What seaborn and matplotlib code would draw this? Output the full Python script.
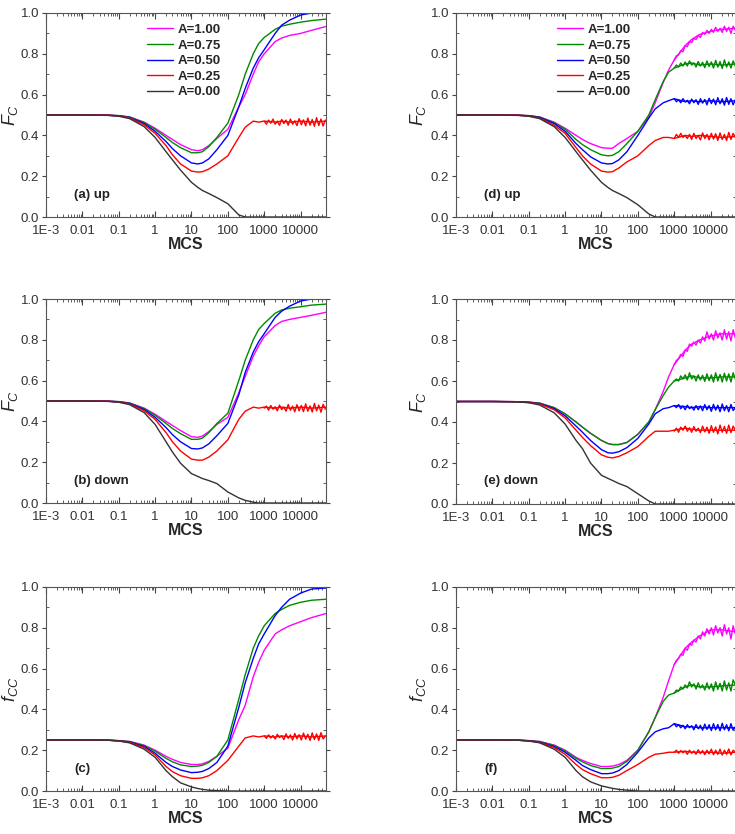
import numpy as np
import pandas as pd
import matplotlib
matplotlib.use("Agg")
import matplotlib.pyplot as plt
from matplotlib.ticker import FixedLocator, LogLocator, MultipleLocator, NullFormatter, FormatStrFormatter
import seaborn as sns

# time axis (MCS), shared by all panels
MCS = [0.001, 0.01, 0.05, 0.1, 0.2, 0.5, 1, 2, 3, 5, 10, 15, 20, 30, 50,
       100, 200, 300, 500, 700, 1000, 2000, 3000, 5000, 10000, 20000, 50000]
# denser time points for the noisy plateaus
MCS_tail = [1000, 1150, 1320, 1510, 1740, 2000, 2290, 2630, 3020, 3470, 3980, 4570, 5250, 6030, 6920,
            7940, 9120, 10500, 12000, 13800, 15800, 18200, 20900, 24000, 27500, 31600, 36300, 41700, 47900]

# (a) up, F_C
a_100 = [0.5, 0.5, 0.499, 0.497, 0.49, 0.465, 0.435, 0.4, 0.38, 0.355, 0.33, 0.325, 0.33, 0.35, 0.385,
         0.43, 0.54, 0.6, 0.7, 0.76, 0.8, 0.86, 0.877, 0.89, 0.9, 0.915, 0.934]
a_075 = [0.5, 0.5, 0.499, 0.497, 0.49, 0.463, 0.43, 0.39, 0.365, 0.34, 0.315, 0.315, 0.32, 0.345, 0.39,
         0.46, 0.6, 0.7, 0.8, 0.85, 0.88, 0.92, 0.935, 0.945, 0.955, 0.963, 0.97]
a_050 = [0.5, 0.5, 0.499, 0.496, 0.488, 0.458, 0.42, 0.37, 0.335, 0.3, 0.265, 0.26, 0.265, 0.285, 0.33,
         0.4, 0.54, 0.63, 0.73, 0.78, 0.82, 0.9, 0.94, 0.965, 0.99, 1.0, 1.0]
a_025 = [0.5, 0.5, 0.499, 0.495, 0.486, 0.452, 0.41, 0.35, 0.305, 0.26, 0.225, 0.22, 0.222, 0.235, 0.26,
         0.3, 0.39, 0.44, 0.47, 0.465, 0.47, 0.465, 0.47, 0.465, 0.47, 0.465, 0.47]
a_000 = [0.5, 0.5, 0.498, 0.494, 0.482, 0.443, 0.39, 0.32, 0.28, 0.23, 0.17, 0.145, 0.13, 0.115, 0.095,
         0.065, 0.01, 0.0, 0, 0, 0, 0, 0, 0, 0, 0, 0]
a_025_tail = [0.47, 0.455, 0.475, 0.46, 0.48, 0.455, 0.47, 0.45, 0.478, 0.458, 0.475, 0.45, 0.48, 0.455, 0.472,
              0.448, 0.482, 0.452, 0.476, 0.447, 0.485, 0.45, 0.478, 0.445, 0.487, 0.448, 0.48, 0.446, 0.475]

# (b) down, F_C
b_100 = [0.5, 0.5, 0.499, 0.497, 0.49, 0.465, 0.435, 0.4, 0.38, 0.355, 0.325, 0.322, 0.328, 0.35, 0.385,
         0.42, 0.54, 0.62, 0.72, 0.77, 0.815, 0.87, 0.89, 0.9, 0.91, 0.92, 0.935]
b_075 = [0.5, 0.5, 0.499, 0.497, 0.49, 0.463, 0.43, 0.39, 0.365, 0.34, 0.312, 0.312, 0.318, 0.345, 0.39,
         0.44, 0.6, 0.7, 0.8, 0.85, 0.88, 0.93, 0.946, 0.955, 0.962, 0.97, 0.975]
b_050 = [0.5, 0.5, 0.499, 0.496, 0.488, 0.458, 0.42, 0.37, 0.335, 0.3, 0.267, 0.265, 0.27, 0.29, 0.33,
         0.39, 0.53, 0.64, 0.74, 0.79, 0.83, 0.91, 0.94, 0.965, 0.99, 1.0, 1.0]
b_025 = [0.5, 0.5, 0.499, 0.495, 0.486, 0.452, 0.41, 0.345, 0.3, 0.255, 0.215, 0.21, 0.21, 0.225, 0.255,
         0.31, 0.41, 0.45, 0.47, 0.465, 0.47, 0.465, 0.47, 0.465, 0.47, 0.465, 0.47]
b_000 = [0.5, 0.5, 0.498, 0.494, 0.482, 0.443, 0.385, 0.3, 0.25, 0.195, 0.144, 0.13, 0.12, 0.11, 0.095,
         0.054, 0.025, 0.013, 0.004, 0.0, 0, 0, 0, 0, 0, 0, 0]
b_025_tail = [0.465, 0.475, 0.455, 0.478, 0.46, 0.472, 0.452, 0.48, 0.458, 0.47, 0.45, 0.483, 0.455, 0.475, 0.447,
              0.482, 0.452, 0.478, 0.448, 0.486, 0.45, 0.476, 0.446, 0.488, 0.452, 0.48, 0.445, 0.484, 0.46]

# (c) f_CC
c_100 = [0.25, 0.25, 0.249, 0.247, 0.243, 0.225, 0.2, 0.17, 0.155, 0.14, 0.13, 0.13, 0.133, 0.145, 0.17,
         0.21, 0.35, 0.42, 0.56, 0.63, 0.69, 0.77, 0.79, 0.81, 0.83, 0.85, 0.87]
c_075 = [0.25, 0.25, 0.249, 0.247, 0.242, 0.222, 0.195, 0.16, 0.143, 0.128, 0.12, 0.122, 0.126, 0.14, 0.17,
         0.25, 0.45, 0.57, 0.7, 0.76, 0.81, 0.87, 0.89, 0.91, 0.925, 0.935, 0.94]
c_050 = [0.25, 0.25, 0.249, 0.246, 0.24, 0.218, 0.185, 0.14, 0.12, 0.103, 0.09, 0.092, 0.096, 0.11, 0.14,
         0.22, 0.41, 0.53, 0.65, 0.72, 0.77, 0.86, 0.9, 0.94, 0.97, 0.99, 0.995]
c_025 = [0.25, 0.25, 0.249, 0.246, 0.238, 0.213, 0.177, 0.12, 0.095, 0.075, 0.062, 0.062, 0.065, 0.075, 0.1,
         0.15, 0.22, 0.26, 0.27, 0.265, 0.27, 0.265, 0.27, 0.265, 0.27, 0.265, 0.27]
c_000 = [0.25, 0.25, 0.249, 0.245, 0.236, 0.205, 0.165, 0.1, 0.07, 0.04, 0.02, 0.012, 0.008, 0.004, 0.002,
         0.0, 0, 0, 0, 0, 0, 0, 0, 0, 0, 0, 0]
c_025_tail = [0.27, 0.258, 0.275, 0.26, 0.272, 0.255, 0.278, 0.262, 0.27, 0.252, 0.28, 0.258, 0.275, 0.25, 0.282,
              0.256, 0.276, 0.25, 0.284, 0.254, 0.278, 0.248, 0.285, 0.252, 0.28, 0.248, 0.286, 0.255, 0.27]

# (d) up, F_C
d_100 = [0.5, 0.5, 0.499, 0.497, 0.49, 0.465, 0.435, 0.4, 0.38, 0.36, 0.34, 0.337, 0.337, 0.36, 0.385,
         0.42, 0.49, 0.56, 0.66, 0.72, 0.77, 0.84, 0.87, 0.895, 0.91, 0.92, 0.925]
d_075 = [0.5, 0.5, 0.499, 0.497, 0.49, 0.462, 0.43, 0.38, 0.355, 0.33, 0.305, 0.3, 0.302, 0.32, 0.36,
         0.42, 0.5, 0.575, 0.665, 0.71, 0.73, 0.75, 0.755, 0.745, 0.75, 0.745, 0.75]
d_050 = [0.5, 0.5, 0.499, 0.496, 0.488, 0.458, 0.42, 0.36, 0.33, 0.295, 0.265, 0.26, 0.262, 0.28, 0.32,
         0.4, 0.485, 0.53, 0.56, 0.57, 0.58, 0.565, 0.57, 0.565, 0.57, 0.565, 0.57]
d_025 = [0.5, 0.5, 0.499, 0.495, 0.485, 0.45, 0.41, 0.34, 0.3, 0.26, 0.225, 0.22, 0.222, 0.24, 0.27,
         0.3, 0.35, 0.375, 0.39, 0.39, 0.385, 0.4, 0.395, 0.4, 0.395, 0.39, 0.395]
d_000 = [0.5, 0.5, 0.498, 0.494, 0.482, 0.443, 0.39, 0.32, 0.28, 0.23, 0.17, 0.145, 0.13, 0.115, 0.095,
         0.06, 0.015, 0.0, 0, 0, 0, 0, 0, 0, 0, 0, 0]
d_100_tail = [0.77, 0.79, 0.795, 0.815, 0.81, 0.84, 0.835, 0.86, 0.855, 0.875, 0.87, 0.89, 0.88, 0.905, 0.895,
              0.915, 0.9, 0.92, 0.905, 0.93, 0.91, 0.925, 0.905, 0.935, 0.91, 0.93, 0.9, 0.935, 0.915]
d_075_tail = [0.73, 0.745, 0.735, 0.755, 0.74, 0.76, 0.74, 0.765, 0.745, 0.755, 0.735, 0.762, 0.74, 0.758, 0.732,
              0.765, 0.738, 0.76, 0.73, 0.768, 0.735, 0.762, 0.728, 0.77, 0.735, 0.76, 0.73, 0.765, 0.74]
d_050_tail = [0.58, 0.565, 0.575, 0.56, 0.58, 0.565, 0.572, 0.555, 0.578, 0.56, 0.575, 0.552, 0.58, 0.558, 0.576,
              0.55, 0.582, 0.556, 0.578, 0.55, 0.585, 0.555, 0.58, 0.548, 0.586, 0.552, 0.58, 0.55, 0.575]
d_025_tail = [0.385, 0.405, 0.39, 0.41, 0.39, 0.4, 0.385, 0.405, 0.38, 0.41, 0.385, 0.4, 0.378, 0.412, 0.385,
              0.405, 0.378, 0.41, 0.382, 0.408, 0.375, 0.412, 0.38, 0.405, 0.375, 0.415, 0.38, 0.41, 0.39]

# (e) down, F_C
e_100 = [0.5, 0.5, 0.499, 0.497, 0.492, 0.47, 0.44, 0.4, 0.375, 0.345, 0.31, 0.295, 0.29, 0.29, 0.3,
         0.34, 0.4, 0.46, 0.55, 0.62, 0.68, 0.75, 0.78, 0.8, 0.82, 0.83, 0.83]
e_075 = [0.5, 0.5, 0.499, 0.497, 0.492, 0.47, 0.44, 0.4, 0.375, 0.345, 0.31, 0.295, 0.29, 0.29, 0.3,
         0.34, 0.4, 0.46, 0.53, 0.57, 0.6, 0.615, 0.625, 0.615, 0.615, 0.62, 0.62]
e_050 = [0.5, 0.5, 0.499, 0.496, 0.49, 0.465, 0.43, 0.38, 0.35, 0.31, 0.265, 0.25, 0.248, 0.255, 0.275,
         0.32, 0.39, 0.44, 0.465, 0.47, 0.48, 0.475, 0.47, 0.475, 0.47, 0.47, 0.47]
e_025 = [0.5, 0.5, 0.499, 0.495, 0.488, 0.46, 0.42, 0.36, 0.325, 0.285, 0.24, 0.228, 0.225, 0.232, 0.25,
         0.28, 0.33, 0.355, 0.355, 0.355, 0.36, 0.37, 0.365, 0.36, 0.36, 0.36, 0.36]
e_000 = [0.5, 0.5, 0.498, 0.494, 0.483, 0.445, 0.39, 0.31, 0.27, 0.2, 0.14, 0.125, 0.115, 0.1, 0.085,
         0.05, 0.015, 0.0, 0, 0, 0, 0, 0, 0, 0, 0, 0]
e_100_tail = [0.68, 0.7, 0.71, 0.73, 0.72, 0.75, 0.745, 0.78, 0.77, 0.79, 0.775, 0.8, 0.785, 0.815, 0.795,
              0.84, 0.805, 0.83, 0.8, 0.845, 0.81, 0.835, 0.8, 0.85, 0.805, 0.84, 0.795, 0.85, 0.81]
e_075_tail = [0.6, 0.61, 0.6, 0.625, 0.61, 0.63, 0.605, 0.64, 0.61, 0.625, 0.6, 0.63, 0.605, 0.628, 0.598,
              0.635, 0.602, 0.63, 0.595, 0.64, 0.6, 0.632, 0.595, 0.638, 0.6, 0.635, 0.595, 0.64, 0.61]
e_050_tail = [0.48, 0.47, 0.485, 0.465, 0.478, 0.46, 0.482, 0.465, 0.475, 0.458, 0.48, 0.46, 0.478, 0.455, 0.485,
              0.46, 0.48, 0.452, 0.486, 0.458, 0.482, 0.45, 0.488, 0.455, 0.48, 0.45, 0.486, 0.456, 0.47]
e_025_tail = [0.355, 0.37, 0.35, 0.375, 0.36, 0.38, 0.355, 0.372, 0.35, 0.378, 0.355, 0.37, 0.348, 0.38, 0.352,
              0.375, 0.345, 0.382, 0.35, 0.376, 0.342, 0.385, 0.35, 0.378, 0.345, 0.385, 0.348, 0.38, 0.36]

# (f) f_CC
f_100 = [0.25, 0.25, 0.249, 0.247, 0.243, 0.225, 0.2, 0.165, 0.15, 0.135, 0.12, 0.12, 0.122, 0.13, 0.15,
         0.2, 0.29, 0.36, 0.46, 0.54, 0.62, 0.7, 0.73, 0.76, 0.79, 0.79, 0.78]
f_075 = [0.25, 0.25, 0.249, 0.247, 0.242, 0.223, 0.197, 0.16, 0.143, 0.125, 0.11, 0.11, 0.112, 0.12, 0.145,
         0.2, 0.29, 0.36, 0.44, 0.47, 0.48, 0.51, 0.52, 0.51, 0.51, 0.515, 0.52]
f_050 = [0.25, 0.25, 0.249, 0.246, 0.24, 0.218, 0.19, 0.15, 0.125, 0.105, 0.085, 0.085, 0.088, 0.1, 0.13,
         0.19, 0.26, 0.29, 0.305, 0.31, 0.33, 0.315, 0.315, 0.31, 0.31, 0.31, 0.31]
f_025 = [0.25, 0.25, 0.249, 0.246, 0.238, 0.213, 0.18, 0.13, 0.105, 0.085, 0.065, 0.065, 0.067, 0.077, 0.1,
         0.13, 0.165, 0.18, 0.185, 0.19, 0.19, 0.195, 0.19, 0.19, 0.19, 0.185, 0.19]
f_000 = [0.25, 0.25, 0.249, 0.245, 0.236, 0.205, 0.165, 0.1, 0.07, 0.045, 0.025, 0.018, 0.013, 0.008, 0.004,
         0.0, 0, 0, 0, 0, 0, 0, 0, 0, 0, 0, 0]
f_100_tail = [0.62, 0.64, 0.65, 0.67, 0.665, 0.7, 0.69, 0.72, 0.715, 0.74, 0.73, 0.76, 0.745, 0.78, 0.76,
              0.795, 0.77, 0.8, 0.765, 0.81, 0.775, 0.8, 0.76, 0.815, 0.77, 0.8, 0.745, 0.81, 0.77]
f_075_tail = [0.48, 0.495, 0.49, 0.51, 0.5, 0.52, 0.505, 0.535, 0.51, 0.525, 0.5, 0.53, 0.505, 0.52, 0.495,
              0.53, 0.5, 0.525, 0.49, 0.535, 0.498, 0.528, 0.49, 0.54, 0.495, 0.53, 0.49, 0.545, 0.52]
f_050_tail = [0.33, 0.315, 0.325, 0.31, 0.322, 0.305, 0.325, 0.31, 0.32, 0.3, 0.326, 0.305, 0.322, 0.298, 0.328,
              0.302, 0.325, 0.296, 0.33, 0.3, 0.326, 0.295, 0.332, 0.3, 0.325, 0.295, 0.33, 0.298, 0.315]
f_025_tail = [0.19, 0.2, 0.185, 0.198, 0.188, 0.195, 0.18, 0.2, 0.185, 0.196, 0.18, 0.202, 0.183, 0.198, 0.178,
              0.2, 0.182, 0.205, 0.178, 0.2, 0.18, 0.205, 0.176, 0.2, 0.18, 0.206, 0.177, 0.2, 0.19]

A_labels = ["A=1.00", "A=0.75", "A=0.50", "A=0.25", "A=0.00"]
colors = ["#ff00ff", "#008a00", "#0000ff", "#ff0000", "#333333"]
xtick_vals = [1e-3, 1e-2, 1e-1, 1, 10, 100, 1000, 10000]
xtick_labels = ["1E-3", "0.01", "0.1", "1", "10", "100", "1000", "10000"]

panels = [
    ("a", [a_100, a_075, a_050, a_025, a_000], [None, None, None, a_025_tail, None], "(a) up", r"$F_C$"),
    ("b", [b_100, b_075, b_050, b_025, b_000], [None, None, None, b_025_tail, None], "(b) down", r"$F_C$"),
    ("c", [c_100, c_075, c_050, c_025, c_000], [None, None, None, c_025_tail, None], "(c)", r"$f_{CC}$"),
    ("d", [d_100, d_075, d_050, d_025, d_000], [d_100_tail, d_075_tail, d_050_tail, d_025_tail, None], "(d) up", r"$F_C$"),
    ("e", [e_100, e_075, e_050, e_025, e_000], [e_100_tail, e_075_tail, e_050_tail, e_025_tail, None], "(e) down", r"$F_C$"),
    ("f", [f_100, f_075, f_050, f_025, f_000], [f_100_tail, f_075_tail, f_050_tail, f_025_tail, None], "(f)", r"$f_{CC}$"),
]

sns.set_style("ticks")
plt.rcParams['font.family'] = ['Liberation Sans', 'DejaVu Sans']
plt.rcParams['mathtext.fontset'] = 'custom'
plt.rcParams['mathtext.it'] = 'Liberation Sans:italic'
plt.rcParams['mathtext.rm'] = 'Liberation Sans'

fig = plt.figure(figsize=(7.35, 8.34), dpi=100)
W, H = 735, 834
# axes boxes in pixels: left, top, right, bottom
boxes = {
    "a": (46, 13, 326, 217), "b": (46, 299, 326, 503), "c": (46, 587, 326, 791),
    "d": (456, 13, 736, 217), "e": (456, 299, 736, 504), "f": (456, 587, 736, 791),
}

for key, series, tails, tag, ylab in panels:
    l, t, r, b = boxes[key]
    ax = fig.add_axes([l / W, 1 - b / H, (r - l) / W, (b - t) / H])
    for vals, tail, lab, col in zip(series, tails, A_labels, colors):
        df = pd.DataFrame({"MCS": MCS, "val": vals})
        sns.lineplot(data=df, x="MCS", y="val", color=col, lw=1.0, label=lab, ax=ax)
        if tail is not None:
            sns.lineplot(x=MCS_tail, y=tail, color=col, lw=1.0, ax=ax)
    ax.set_xscale("log")
    ax.set_xlim(1e-3, 5e4)
    ax.set_ylim(0, 1.0)
    ax.xaxis.set_major_locator(FixedLocator(xtick_vals))
    ax.set_xticklabels(xtick_labels)
    ax.xaxis.set_minor_locator(LogLocator(base=10, subs=np.arange(2, 10), numticks=20))
    ax.xaxis.set_minor_formatter(NullFormatter())
    ax.yaxis.set_major_locator(MultipleLocator(0.2))
    ax.yaxis.set_minor_locator(MultipleLocator(0.1))
    ax.yaxis.set_major_formatter(FormatStrFormatter("%.1f"))
    ax.tick_params(which="both", direction="in", top=True, right=True, labelsize=9.5,
                   colors="#444444", labelcolor="#333333")
    ax.tick_params(which="major", length=4)
    ax.tick_params(which="minor", length=2)
    ax.tick_params(axis="x", which="major", pad=6)
    ax.tick_params(axis="y", which="major", direction="out", length=3, pad=2)
    for sp in ax.spines.values():
        sp.set_color("#555555")
        sp.set_linewidth(0.8)
    ax.set_xlabel("MCS", fontsize=11.5, fontweight="bold", labelpad=0)
    ax.set_ylabel(ylab, fontsize=13)
    ax.yaxis.set_label_coords(-0.094 if l < 100 else -0.1, 0.5)
    ax.text(0.1, 0.11, tag, transform=ax.transAxes, fontsize=9.5, fontweight="bold",
            ha="left", va="center", color="#222222")
    if key in ("a", "d"):
        h, lb = ax.get_legend_handles_labels()
        ax.legend(h, lb, loc="upper left", bbox_to_anchor=(0.32, 1.005), frameon=False,
                  prop={"weight": "bold", "size": 9.5}, handlelength=1.9, labelspacing=0.25,
                  handletextpad=0.4)
    else:
        ax.get_legend().remove()

fig.savefig("out.png", dpi=100)
